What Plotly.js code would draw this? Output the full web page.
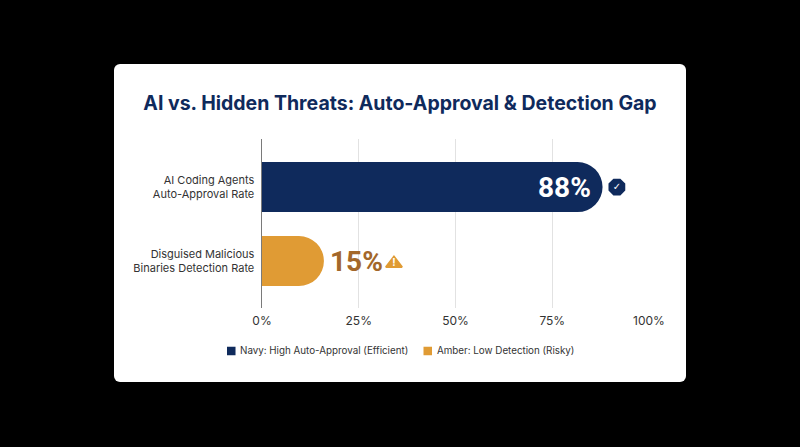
<!DOCTYPE html>
<html>
<head>
<meta charset="utf-8">
<script src="https://cdn.plot.ly/plotly-3.0.1.min.js"></script>
<style>
html,body{margin:0;padding:0;background:#000;width:800px;height:447px;overflow:hidden}
#card{position:absolute;left:114px;top:64px;width:572px;height:318px;background:#fff;border-radius:6px}
#chart{position:absolute;left:0;top:0;width:800px;height:447px}
</style>
</head>
<body>
<div id="card"></div>
<div id="chart"></div>
<script>
const categories = ["AI Coding Agents<br>Auto-Approval Rate", "Disguised Malicious<br>Binaries Detection Rate"];
const barLengths = [88, 16];
const valueLabels = ["88%", "15%"];
const legendLabels = ["Navy: High Auto-Approval (Efficient)", "Amber: Low Detection (Risky)"];
const tickValues = [0, 25, 50, 75, 100];
const tickLabels = ["0%", "25%", "50%", "75%", "100%"];
const NAVY = "#0f2a5c", AMBER = "#e09b34", BROWN = "#a3672a";
const FONT = "Inter, 'Noto Sans', sans-serif";
const VALUE_FONT = "Roboto, Inter, sans-serif";
const iconX = [91.7, 34.1];

const traces = [
  {type:"bar", orientation:"h", name:legendLabels[0], x:[barLengths[0]], y:[0], width:0.676,
   marker:{color:NAVY, cornerradius:25, line:{width:0}}, hoverinfo:"skip", showlegend:false},
  {type:"bar", orientation:"h", name:legendLabels[1], x:[barLengths[1]], y:[1], width:0.676,
   marker:{color:AMBER, cornerradius:25, line:{width:0}}, hoverinfo:"skip", showlegend:false},
  {type:"scatter", mode:"markers+text", x:[iconX[0]], y:[0], text:["✓"], textposition:"middle center",
   textfont:{color:"#fff", size:10, family:"DejaVu Sans"}, cliponaxis:false,
   marker:{symbol:"octagon", size:16, color:NAVY, line:{color:NAVY, width:2}}, hoverinfo:"skip", showlegend:false},
  {type:"scatter", mode:"markers+text", x:[iconX[1]], y:[1.035], text:["<b>!</b>"], textposition:"middle center",
   textfont:{color:"#fff", size:10, family:FONT}, cliponaxis:false,
   marker:{symbol:"triangle-up", size:14, color:AMBER, line:{color:AMBER, width:2}}, hoverinfo:"skip", showlegend:false}
];

const LEG_Y = -0.2544;
const swatch = (x0, color) => ({type:"rect", xref:"paper", yref:"paper", x0:x0, x1:x0+8.5/387,
  y0:LEG_Y-4.25/169, y1:LEG_Y+4.25/169, fillcolor:color, line:{width:0}, layer:"above"});
const legendText = (x, t) => ({xref:"paper", yref:"paper", x:x, y:LEG_Y, text:t, showarrow:false,
  xanchor:"left", yanchor:"middle", xshift:-2, font:{family:FONT, size:9.8, color:"#333"}});

const layout = {
  width:800, height:447,
  paper_bgcolor:"rgba(0,0,0,0)", plot_bgcolor:"rgba(0,0,0,0)",
  margin:{l:262, r:151, t:139, b:139},
  barmode:"overlay", showlegend:false,
  title:{text:"<b>AI vs. Hidden Threats: Auto-Approval &amp; Detection Gap</b>", x:0.5, xanchor:"center",
         y:0.769, yanchor:"middle", font:{family:FONT, size:19.5, color:NAVY}},
  xaxis:{range:[0,100], tickmode:"array", tickvals:tickValues, ticktext:tickLabels, showgrid:true,
         gridcolor:"#e2e2e2", gridwidth:1, zeroline:false, showline:false, ticks:"", ticklen:0,
         ticklabelstandoff:4, tickfont:{family:FONT, size:12, color:"#333"}},
  yaxis:{range:[1.635,-0.649], tickmode:"array", tickvals:[0,1], ticktext:categories, showgrid:false,
         zeroline:false, showline:true, linecolor:"#7a7a7a", linewidth:1.5, ticks:"",
         ticklabelstandoff:4, tickfont:{family:FONT, size:11, color:"#333"}},
  annotations:[
    {x:barLengths[0], y:0, xref:"x", yref:"y", text:"<b>"+valueLabels[0]+"</b>", showarrow:false, xanchor:"right",
     xshift:-10, font:{family:VALUE_FONT, size:28, color:"#fff"}},
    {x:barLengths[1], y:1, xref:"x", yref:"y", text:"<b>"+valueLabels[1]+"</b>", showarrow:false, xanchor:"left",
     xshift:4, font:{family:VALUE_FONT, size:28, color:BROWN}},
    legendText(-0.0568, legendLabels[0]),
    legendText(0.4522, legendLabels[1])
  ],
  shapes:[swatch(-0.0904, NAVY), swatch(0.4173, AMBER)]
};
Plotly.newPlot("chart", traces, layout, {displayModeBar:false, staticPlot:true});
</script>
</body>
</html>
